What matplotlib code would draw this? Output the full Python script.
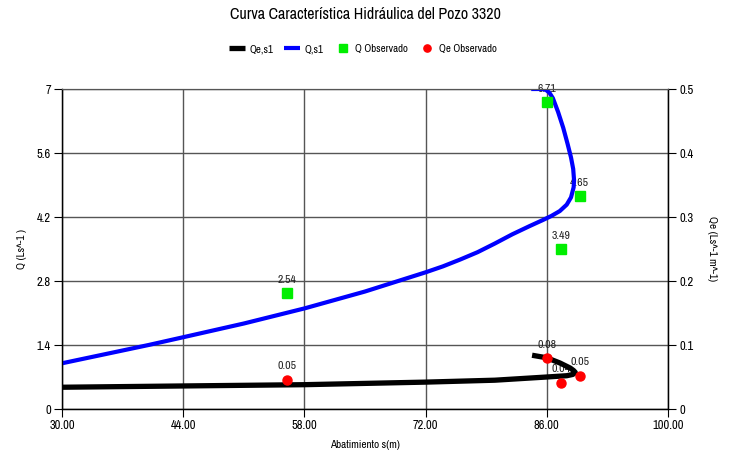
import matplotlib
matplotlib.use("Agg")
import matplotlib.pyplot as plt
from matplotlib import ticker

plt.rcParams['font.family'] = ['Archivo Narrow', 'Liberation Sans', 'DejaVu Sans']

# curve Q,s1 (abatimiento s vs caudal Q)
s_q = [30, 35, 40, 44, 51, 58, 65, 72, 74, 76, 78, 80, 82, 84, 85.5, 86.5, 87.5, 88.3, 88.8, 89.1,
       89.15, 89.05, 88.8, 88.4, 87.9, 87.3, 86.7, 86.3, 85.9, 85.5, 84.2]
q_curve = [1.00, 1.20, 1.40, 1.57, 1.87, 2.20, 2.57, 2.99, 3.12, 3.27, 3.43, 3.62, 3.82, 4.00, 4.13,
           4.22, 4.33, 4.47, 4.63, 4.85, 5.00, 5.25, 5.50, 5.80, 6.15, 6.50, 6.80, 6.92, 6.98, 7.0, 7.0]

# curve Qe,s1 (caudal especifico)
s_qe = [30, 44, 58, 72, 80, 86, 88.3, 89.0, 89.3, 89.1, 88.7, 87.5, 86.0, 84.3]
qe_curve = [0.034, 0.036, 0.038, 0.042, 0.045, 0.050, 0.052, 0.054, 0.057, 0.060, 0.064, 0.072,
            0.080, 0.084]

# observed values
s_obs = [56.0, 86.0, 89.8, 87.6]
q_obs = [2.54, 6.71, 4.65, 3.49]
qe_obs = [0.046, 0.079, 0.052, 0.041]

x_ticks = [30, 44, 58, 72, 86, 100]
q_ticks = [0, 1.4, 2.8, 4.2, 5.6, 7]
qe_ticks = [0, 0.1, 0.2, 0.3, 0.4, 0.5]

fig = plt.figure(figsize=(7.3, 4.58), dpi=100)
ax1 = fig.add_axes([62 / 730, 1 - 409 / 458, 606 / 730, 320 / 458])
ax2 = ax1.twinx()

grid_col = '#555555'
ax1.set_xlim(30, 100)
ax1.set_ylim(0, 7)
ax2.set_ylim(0, 0.5)
ax1.set_xticks(x_ticks)
ax1.set_yticks(q_ticks)
ax2.set_yticks(qe_ticks)
ax1.xaxis.set_major_formatter(ticker.FormatStrFormatter('%.2f'))
ax1.yaxis.set_major_formatter(ticker.FuncFormatter(lambda v, p: f'{v:g}'))
ax2.yaxis.set_major_formatter(ticker.FuncFormatter(lambda v, p: f'{v:g}'))
ax1.grid(True, color=grid_col, linewidth=1.0)
ax1.set_axisbelow(True)

for ax in (ax1, ax2):
    ax.tick_params(labelsize=9, length=6, width=0.8, colors='black', pad=2)
    ax.spines['top'].set_color(grid_col)
    ax.spines['left'].set_linewidth(0.9)
    ax.spines['right'].set_linewidth(0.9)
    ax.spines['bottom'].set_linewidth(0.9)

# observed labels (under the curves)
for s, q in zip(s_obs, q_obs):
    ax1.annotate(f'{q:.2f}', (s, q), xytext=(0, 6), textcoords='offset points',
                 ha='center', va='bottom', fontsize=8.5, color='#222222', zorder=1)
for s, qe in zip(s_obs, qe_obs):
    ax2.annotate(f'{qe:.2f}', (s, qe), xytext=(0, 6), textcoords='offset points',
                 ha='center', va='bottom', fontsize=8.5, color='#222222', zorder=1)

l2, = ax1.plot(s_q, q_curve, color='#0000ff', linewidth=3.0, zorder=3, label='Q,s1',
               solid_joinstyle='round', solid_capstyle='butt')
m1, = ax1.plot(s_obs, q_obs, 's', color='#00ee00', markersize=6.5, linestyle='none', zorder=4,
               label='Q Observado')
l1, = ax2.plot(s_qe, qe_curve, color='black', linewidth=3.8, zorder=3, label='Qe,s1',
               solid_joinstyle='round', solid_capstyle='butt')
m2, = ax2.plot(s_obs, qe_obs, 'o', color='#ff0000', markersize=6.5, linestyle='none', zorder=4,
               label='Qe Observado')

fig.text(365 / 730, 1 - 445 / 458, 'Abatimiento s(m)', fontsize=8, ha='center', va='center')
fig.text(22 / 730, 1 - 249 / 458, 'Q (Ls^-1 )', fontsize=8, ha='center', va='center', rotation=90)
fig.text(712 / 730, 1 - 249 / 458, 'Qe (Ls^-1 m^-1)', fontsize=8, ha='center', va='center',
         rotation=270)

fig.suptitle('Curva Característica Hidráulica del Pozo 3320', x=365 / 730, y=1 - 7 / 458,
             fontsize=11.5, fontweight='semibold', va='top')
fig.legend(handles=[l1, l2, m1, m2], loc='center', bbox_to_anchor=(363 / 730, 1 - 49 / 458),
           ncol=4, frameon=False, fontsize=7.8, handlelength=1.5, columnspacing=1.0,
           handletextpad=0.4, markerscale=0.8)

fig.savefig('out.png', dpi=100)
